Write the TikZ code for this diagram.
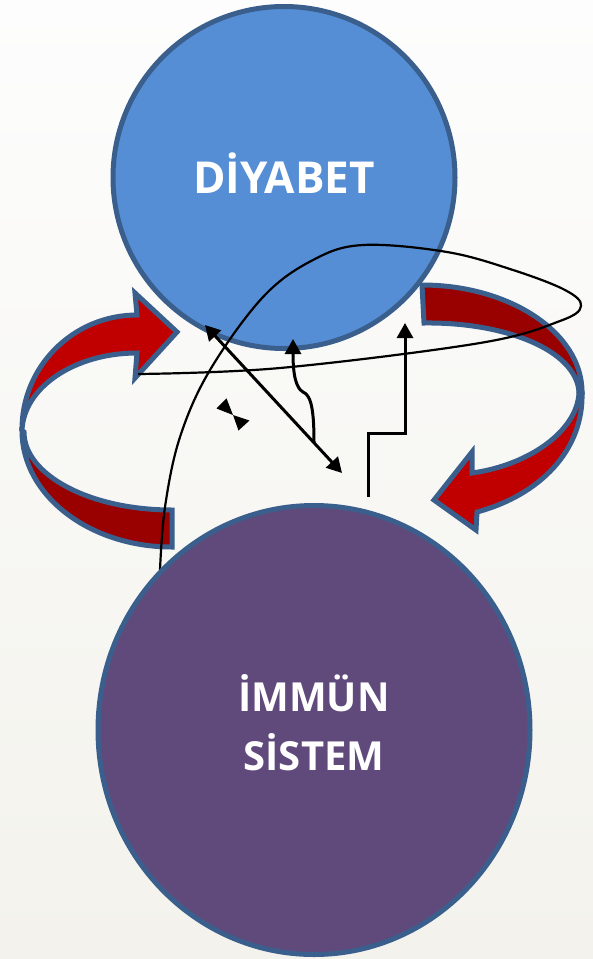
\documentclass[tikz,border=0pt]{standalone}
\usepackage{fontspec}
\newfontfamily\lblfont{Open Sans}
\usetikzlibrary{shapes.geometric,arrows.meta}
\definecolor{bgtop}{HTML}{FDFDFD}
\definecolor{bgbot}{HTML}{F3F2EC}
\definecolor{dblue}{HTML}{558ED5}
\definecolor{edgeblue}{HTML}{3A5F8D}
\definecolor{purp}{HTML}{604A7B}
\definecolor{redfront}{HTML}{C00000}
\definecolor{redback}{HTML}{990000}
\begin{document}
\begin{tikzpicture}[x=1pt,y=-1pt,
  bubble/.style={draw=edgeblue, line width=5pt, text=white, align=center, inner sep=0pt},
  band/.style={draw=edgeblue, line width=5pt, line join=miter},
  conn/.style={draw=black, line width=3pt},
  headed/.style={-{Triangle[length=15pt,width=16pt]}},
  loopline/.style={draw=black, line width=2.2pt}]
\shade[top color=bgtop, bottom color=bgbot] (0,0) rectangle (593,959);
\useasboundingbox (0,0) rectangle (593,959);

% top circle
\node[bubble, circle, fill=dblue, minimum size=342pt, text height=31.4pt, text depth=0pt,
  font=\lblfont\bfseries\fontsize{44}{52}\selectfont] (diy) at (284,177.5) {DİYABET};

% left circular arrow: back (dark) part
\path[band, fill=redback] (22,431) .. controls (22,495) and (89,547) .. (172,547)
  -- (172,510) .. controls (90,510) and (24,475) .. (24,432) -- cycle;
% left circular arrow: front part with head
\path[band, fill=redfront] (137,315) -- (135,293) -- (177,332) -- (135,378) -- (137,353)
  .. controls (74,353) and (23,388) .. (22,431)
  .. controls (21,367) and (73,315) .. (137,315) -- cycle;

% right circular arrow: back (dark) part
\path[band, fill=redback] (422,285) .. controls (510,285) and (582,333) .. (582,392)
  -- (579,392) .. controls (576,350) and (505,322) .. (424,323) -- cycle;
% right circular arrow: front part with head
\path[band, fill=redfront] (582,392) .. controls (584,450) and (540,495) .. (477,512)
  -- (476,530) -- (434,500) -- (472,452) -- (472,473)
  .. controls (530,465) and (578,430) .. (579,392) -- cycle;

% connectors
\coordinate (dA) at (205,325);
\coordinate (dB) at (342,473);
\draw[conn, {Triangle[length=15pt,width=16pt]}-{Triangle[length=15pt,width=16pt]}] (dA) -- (dB);

\coordinate (cS) at (314,442);
\coordinate (cE) at (293,339);
\draw[conn, headed] (cS) .. controls (314,405) and (310,395) .. (303,392)
  .. controls (296,388) and (293,375) .. (cE);

\coordinate (eS) at (368,497);
\coordinate (eE) at (405,323);
\draw[conn, headed] (eS) |- (405,433) -- (eE);

% bow tie (zero-length double arrow)
\coordinate (bt) at (233,415);
\fill (bt) -- (216.5,408.5) -- (226.5,398.3) -- cycle;
\fill (bt) -- (238.5,430.5) -- (249.5,420.5) -- cycle;

% free-form loop
\draw[loopline] plot[smooth, tension=0.6] coordinates {(138,374) (280,368) (480,343) (560,321) (581,306) (565,290) (513,270) (447,252) (363,245) (313,260) (263,297) (210,370) (180,437) (165,507) (160,570)};

% bottom circle
\node[bubble, ellipse, fill=purp, minimum width=432pt, minimum height=449pt,
  text height=86.9pt, text depth=6.5pt,
  font=\lblfont\bfseries\fontsize{40}{58.3}\selectfont] (imm) at (314,730) {İMMÜN\\SİSTEM};
\end{tikzpicture}
\end{document}
